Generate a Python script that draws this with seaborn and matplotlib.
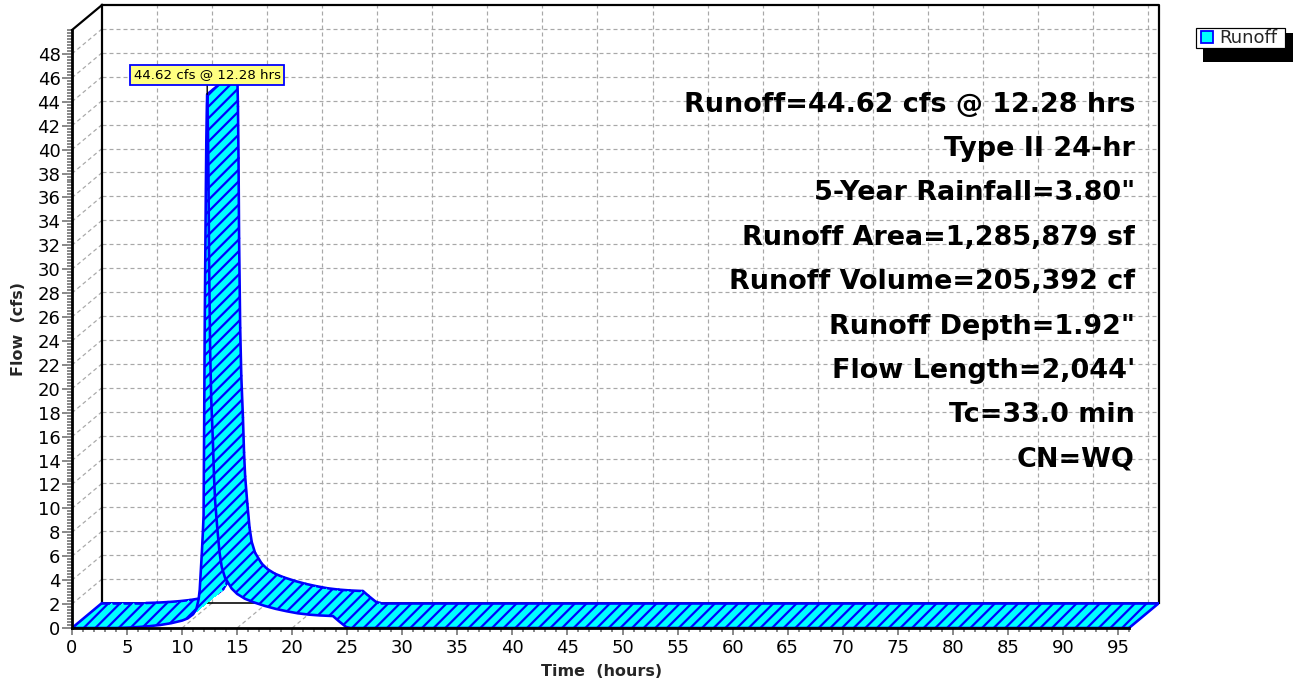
import numpy as np
import pandas as pd
import matplotlib
matplotlib.use("Agg")
import matplotlib.pyplot as plt
from matplotlib.patches import Polygon, Patch, Rectangle, PathPatch
from matplotlib.path import Path
import seaborn as sns

# Runoff hydrograph, Type II 24-hr storm
TIME_HR = [0, 1, 2, 3, 4, 5, 6, 7, 8, 9, 10, 10.5, 11, 11.3, 11.5, 11.6, 11.7,
           11.8, 11.9, 11.95, 12.0, 12.05, 12.1, 12.15, 12.2, 12.25, 12.28,
           12.35, 12.4, 12.45, 12.55, 12.65, 12.8, 12.9, 13.0, 13.2, 13.4,
           13.6, 13.9, 14.5, 15.0, 15.7, 16.5, 17.5, 18.5, 19.5, 20.5, 21.5,
           22.5, 23.7, 24.2, 24.9, 25.3, 96]
FLOW_CFS = [0, 0, 0, 0, 0, 0.03, 0.08, 0.15, 0.25, 0.4, 0.62, 0.8, 1.15, 1.6,
            2.4, 3.2, 4.8, 6.4, 8.3, 9.4, 16.5, 24.7, 30.5, 36.0, 40.8, 43.7,
            44.62, 41.5, 37.2, 30.5, 23.0, 19.0, 15.5, 12.6, 10.6, 8.3, 6.3,
            5.1, 4.2, 3.3, 2.85, 2.45, 2.15, 1.85, 1.6, 1.4, 1.23, 1.12, 1.05,
            1.0, 0.6, 0.08, 0.0, 0.0]

PEAK_TIME_HR = 12.28
PEAK_FLOW_CFS = 44.62
PEAK_LABEL = "44.62 cfs @ 12.28 hrs"

X_MAJOR = list(range(0, 100, 5))
X_MINOR = list(range(0, 97, 1))
Y_MAJOR = list(range(0, 50, 2))
Y_MINOR = list(np.arange(0, 50.01, 0.25))
X_END = 96
Y_END = 50

SERIES_NAME = "Runoff"
SUMMARY_LINES = [
    "Runoff=44.62 cfs @ 12.28 hrs",
    "Type II 24-hr",
    "5-Year Rainfall=3.80\"",
    "Runoff Area=1,285,879 sf",
    "Runoff Volume=205,392 cf",
    "Runoff Depth=1.92\"",
    "Flow Length=2,044'",
    "Tc=33.0 min",
    "CN=WQ",
]

DPI = 140
W, H = 1294, 686


def pt(pixels):
    """Convert a length in pixels to points."""
    return pixels * 72.0 / DPI


sns.set_theme(style="white")
plt.rcParams.update({
    "font.family": ["DejaVu Sans"],
    "hatch.color": "blue",
    "hatch.linewidth": pt(2.2),
    "lines.scale_dashes": False,
})

fig = plt.figure(figsize=(W / DPI, H / DPI), dpi=DPI)
fig.patch.set_facecolor("white")

# plot box in pixels, the back wall is offset by a fixed depth
LEFT, RIGHT, TOP, BOTTOM = 72, 1159, 5, 628
DEPTH_PX_X, DEPTH_PX_Y = 30, 25
ax = fig.add_axes([LEFT / W, 1 - BOTTOM / H, (RIGHT - LEFT) / W, (BOTTOM - TOP) / H])
ax.set_facecolor("white")

px_per_hr = (RIGHT - LEFT - DEPTH_PX_X) / X_END
px_per_cfs = (BOTTOM - TOP - DEPTH_PX_Y) / Y_END
DX = DEPTH_PX_X / px_per_hr
DY = DEPTH_PX_Y / px_per_cfs
ax.set_xlim(0, X_END + DX)
ax.set_ylim(0, Y_END + DY)

grid_kw = dict(color="#a8a8a8", lw=pt(1.2), ls=(0, (pt(4), pt(3))), zorder=1)
# back-wall grid
for y in Y_MAJOR[1:]:
    ax.plot([DX, X_END + DX], [y + DY, y + DY], **grid_kw)
    ax.plot([0, DX], [y, y + DY], **grid_kw)
for x in X_MAJOR[1:]:
    ax.plot([x + DX, x + DX], [DY, Y_END + DY], **grid_kw)
    ax.plot([x, x + DX], [0, DY], **grid_kw)

# back-wall frame
frame_kw = dict(color="black", lw=pt(2.2), zorder=1.5, clip_on=False,
                solid_capstyle="projecting")
ax.plot([DX, X_END + DX, X_END + DX], [Y_END + DY, Y_END + DY, DY], **frame_kw)
ax.plot([DX, DX], [DY, Y_END + DY], **frame_kw)
ax.plot([DX, X_END + DX], [DY, DY], color="black", lw=pt(1.6), zorder=1.5)
ax.plot([0, DX], [Y_END, Y_END + DY], **frame_kw)

# ribbon, painted in time order so later segments hide earlier back edges
edge_lw = pt(2.6)
verts, codes = [], []
for i in range(len(TIME_HR) - 1):
    t0, t1 = TIME_HR[i], TIME_HR[i + 1]
    q0, q1 = FLOW_CFS[i], FLOW_CFS[i + 1]
    z = 3 + i * 0.001
    quad = [(t0, q0), (t1, q1), (t1 + DX, q1 + DY), (t0 + DX, q0 + DY)]
    ax.add_patch(Polygon(quad, closed=True, facecolor="cyan", edgecolor="none",
                         lw=0, antialiased=False, zorder=z))
    ax.plot([t0 + DX, t1 + DX], [q0 + DY, q1 + DY], color="blue", lw=edge_lw,
            zorder=z + 0.0005, solid_capstyle="round")
    # same winding for every piece so the hatch covers their union once
    if (t1 - t0) * DY - (q1 - q0) * DX < 0:
        quad = quad[::-1]
    verts += quad + [quad[0]]
    codes += [Path.MOVETO, Path.LINETO, Path.LINETO, Path.LINETO, Path.CLOSEPOLY]

ax.add_patch(PathPatch(Path(verts, codes), facecolor="none", edgecolor="blue",
                       lw=0, hatch="////", zorder=4))

df = pd.DataFrame({"time": TIME_HR, "flow": FLOW_CFS})
sns.lineplot(data=df, x="time", y="flow", sort=False, estimator=None,
             color="blue", lw=edge_lw, ax=ax, zorder=5, legend=False)
for t, q in [(TIME_HR[0], FLOW_CFS[0]), (TIME_HR[-1], FLOW_CFS[-1]),
             (PEAK_TIME_HR, PEAK_FLOW_CFS)]:
    ax.plot([t, t + DX], [q, q + DY], color="blue", lw=edge_lw, zorder=5)

# peak callout
ax.annotate(PEAK_LABEL, xy=(PEAK_TIME_HR, PEAK_FLOW_CFS),
            xytext=(0, pt(13)), textcoords="offset points",
            ha="center", va="bottom", fontsize=pt(13.4), color="black",
            bbox=dict(boxstyle="square,pad=0.26", fc="#ffff80", ec="blue",
                      lw=pt(1.8)),
            arrowprops=dict(arrowstyle="-", color="black", lw=pt(1.4),
                            shrinkA=0, shrinkB=0),
            zorder=8)

# axes, ticks and labels
for side in ["top", "right"]:
    ax.spines[side].set_visible(False)
ax.spines["left"].set_bounds(0, Y_END)
ax.spines["bottom"].set_bounds(0, X_END)
for side in ["left", "bottom"]:
    ax.spines[side].set_color("black")
    ax.spines[side].set_linewidth(pt(2.8))
    ax.spines[side].set_zorder(10)
    ax.spines[side].set_capstyle("projecting")

ax.set_xticks(X_MAJOR)
ax.set_xticks(X_MINOR, minor=True)
ax.set_yticks(Y_MAJOR)
ax.set_yticks(Y_MINOR, minor=True)
ax.tick_params(axis="both", which="both", direction="out", color="#808080",
               width=pt(1.8), labelsize=pt(18), labelcolor="black")
ax.tick_params(axis="y", which="major", length=pt(10), pad=pt(1.5))
ax.tick_params(axis="y", which="minor", length=pt(5))
ax.tick_params(axis="x", which="major", length=pt(7), pad=pt(4))
ax.tick_params(axis="x", which="minor", length=pt(4))
ax.tick_params(left=True, bottom=True, which="both")
ax.grid(False)

ax.set_xlabel("Time  (hours)", fontsize=pt(16), fontweight="bold")
ax.xaxis.set_label_coords((602 - LEFT) / (RIGHT - LEFT), (BOTTOM - 672) / (BOTTOM - TOP))
ax.xaxis.label.set_va("center")
ax.set_ylabel("Flow  (cfs)", fontsize=pt(16), fontweight="bold")
ax.yaxis.set_label_coords((18.5 - LEFT) / (RIGHT - LEFT), (BOTTOM - 329) / (BOTTOM - TOP))
ax.yaxis.label.set_va("center")

# storm summary
for k, line in enumerate(SUMMARY_LINES):
    base_y = 111.7 + 44.4 * k
    fig.text(1135 / W, 1 - base_y / H, line, ha="right", va="baseline",
             fontsize=pt(27), fontweight="bold", color="black")

# legend box with a drop shadow
fig.add_artist(Rectangle((1203 / W, 1 - 62 / H), 90 / W, 29 / H,
                         transform=fig.transFigure, facecolor="black",
                         edgecolor="none", zorder=4))
fig.add_artist(Rectangle((1196 / W, 1 - 48 / H), 89 / W, 20 / H,
                         transform=fig.transFigure, facecolor="white",
                         edgecolor="black", lw=pt(1.2), zorder=4.5))
handle = Patch(facecolor="cyan", edgecolor="blue", lw=pt(1.8))
leg = fig.legend([handle], [SERIES_NAME], loc="center left",
                 bbox_to_anchor=(1201 / W, 1 - 38 / H), borderaxespad=0,
                 frameon=False, fontsize=pt(18), borderpad=0,
                 handlelength=0.68, handleheight=0.68, handletextpad=0.32)
leg.set_zorder(5)

fig.savefig("out.png", dpi=DPI, facecolor="white")
